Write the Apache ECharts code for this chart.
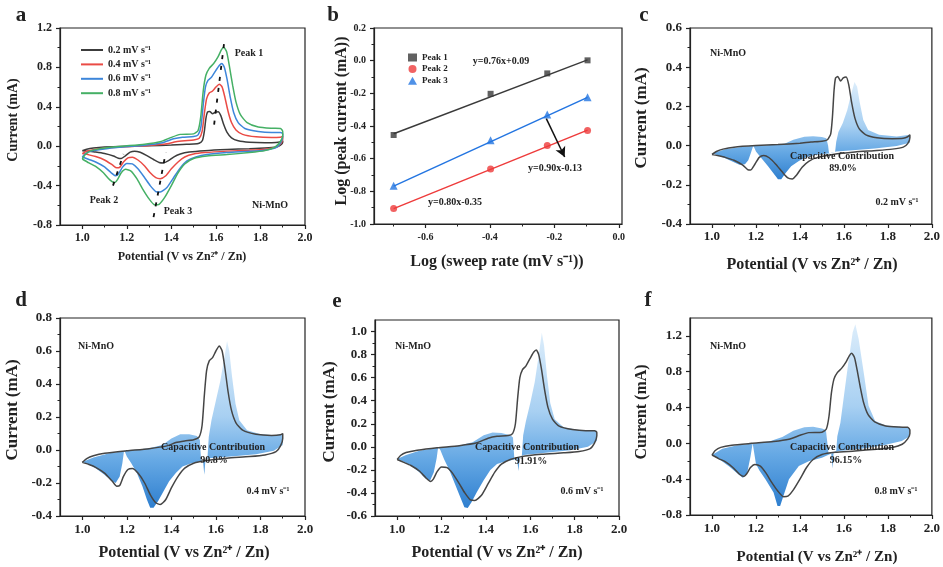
<!DOCTYPE html>
<html><head><meta charset="utf-8">
<script src="https://cdn.jsdelivr.net/npm/echarts@6.0.0/dist/echarts.min.js"></script>
<style>html,body{margin:0;padding:0;background:#fff}#c{width:943px;height:567px}</style>
</head><body><div id="c"></div>
<script>
// ---------------- DATA ----------------
// CV curves [potential V, current mA] : anodic sweep 1.0->1.9 then cathodic 1.9->1.0
const cv02 = [[1.000,-0.045],[1.020,-0.030],[1.050,-0.018],[1.100,-0.008],[1.200,0.000],[1.300,0.005],[1.400,0.012],[1.450,0.018],[1.500,0.022],[1.525,0.030],[1.540,0.060],[1.548,0.150],[1.555,0.280],[1.562,0.345],[1.572,0.352],[1.585,0.330],[1.597,0.345],[1.610,0.350],[1.622,0.310],[1.635,0.220],[1.650,0.140],[1.670,0.085],[1.700,0.055],[1.750,0.040],[1.820,0.035],[1.870,0.037],[1.890,0.045],[1.900,0.055],
  [1.900,0.040],[1.890,0.010],[1.870,-0.008],[1.820,-0.018],[1.750,-0.025],[1.650,-0.033],[1.550,-0.045],[1.480,-0.060],[1.440,-0.080],[1.410,-0.110],[1.385,-0.150],[1.365,-0.170],[1.345,-0.165],[1.320,-0.135],[1.290,-0.095],[1.260,-0.062],[1.235,-0.050],[1.215,-0.060],[1.195,-0.095],[1.175,-0.125],[1.162,-0.122],[1.140,-0.100],[1.100,-0.075],[1.060,-0.060],[1.030,-0.052],[1.000,-0.045]];
const cv04 = [[1.000,-0.075],[1.020,-0.052],[1.050,-0.035],[1.100,-0.020],[1.200,-0.005],[1.300,0.008],[1.380,0.025],[1.420,0.045],[1.460,0.055],[1.500,0.062],[1.525,0.080],[1.538,0.150],[1.548,0.330],[1.558,0.480],[1.570,0.540],[1.585,0.560],[1.600,0.600],[1.615,0.630],[1.628,0.600],[1.640,0.500],[1.655,0.350],[1.670,0.240],[1.690,0.165],[1.720,0.120],[1.780,0.095],[1.850,0.088],[1.890,0.092],[1.900,0.100],
  [1.900,0.070],[1.890,0.025],[1.870,-0.010],[1.820,-0.030],[1.750,-0.040],[1.650,-0.050],[1.550,-0.065],[1.500,-0.080],[1.460,-0.110],[1.430,-0.160],[1.400,-0.230],[1.375,-0.300],[1.350,-0.330],[1.330,-0.320],[1.305,-0.270],[1.280,-0.200],[1.250,-0.140],[1.225,-0.112],[1.205,-0.118],[1.185,-0.160],[1.168,-0.215],[1.155,-0.220],[1.135,-0.190],[1.100,-0.140],[1.060,-0.105],[1.030,-0.088],[1.000,-0.075]];
const cv06 = [[1.000,-0.110],[1.015,-0.075],[1.040,-0.050],[1.090,-0.030],[1.180,-0.008],[1.280,0.010],[1.360,0.035],[1.410,0.075],[1.450,0.092],[1.500,0.098],[1.520,0.115],[1.533,0.200],[1.543,0.420],[1.553,0.600],[1.565,0.670],[1.580,0.700],[1.600,0.770],[1.615,0.820],[1.627,0.840],[1.638,0.800],[1.650,0.680],[1.665,0.490],[1.680,0.340],[1.700,0.240],[1.730,0.180],[1.790,0.150],[1.850,0.140],[1.890,0.140],[1.900,0.125],
  [1.900,0.095],[1.890,0.035],[1.870,-0.015],[1.820,-0.040],[1.750,-0.052],[1.650,-0.065],[1.560,-0.085],[1.510,-0.110],[1.470,-0.150],[1.440,-0.220],[1.410,-0.320],[1.380,-0.420],[1.350,-0.465],[1.330,-0.460],[1.305,-0.400],[1.280,-0.320],[1.250,-0.230],[1.225,-0.180],[1.200,-0.175],[1.180,-0.215],[1.163,-0.280],[1.150,-0.300],[1.130,-0.270],[1.100,-0.210],[1.060,-0.160],[1.030,-0.135],[1.000,-0.110]];
const cv08 = [[1.000,-0.130],[1.015,-0.080],[1.040,-0.045],[1.090,-0.020],[1.180,0.000],[1.280,0.020],[1.350,0.045],[1.400,0.090],[1.440,0.120],[1.500,0.125],[1.520,0.160],[1.532,0.300],[1.543,0.560],[1.555,0.720],[1.570,0.790],[1.590,0.840],[1.610,0.910],[1.625,0.980],[1.635,1.005],[1.648,0.960],[1.660,0.820],[1.675,0.620],[1.690,0.450],[1.710,0.320],[1.740,0.240],[1.790,0.195],[1.850,0.182],[1.890,0.180],[1.900,0.150],
  [1.900,0.110],[1.890,0.050],[1.865,-0.010],[1.820,-0.045],[1.750,-0.065],[1.650,-0.085],[1.560,-0.100],[1.500,-0.125],[1.460,-0.180],[1.430,-0.270],[1.400,-0.400],[1.370,-0.520],[1.345,-0.590],[1.325,-0.595],[1.300,-0.535],[1.270,-0.430],[1.245,-0.330],[1.220,-0.255],[1.195,-0.235],[1.175,-0.270],[1.158,-0.340],[1.145,-0.370],[1.125,-0.345],[1.095,-0.270],[1.060,-0.205],[1.030,-0.170],[1.000,-0.130]];

// peak-shift guide lines (panel a)
const guidePeak1 = [[1.592,0.22],[1.638,1.07]];
const guidePeak2 = [[1.138,-0.40],[1.185,-0.08]];
const guidePeak3 = [[1.320,-0.72],[1.375,-0.06]];

// capacitive contribution outlines (panels c-f)
const capC = [[1.000,-0.040],[1.060,-0.018],[1.150,-0.005],[1.250,0.002],[1.330,0.010],[1.370,0.030],[1.420,0.045],[1.460,0.048],[1.500,0.044],[1.520,0.038],[1.528,0.000],[1.532,-0.038],
  [1.548,-0.036],[1.560,-0.032],
  [1.565,0.020],[1.575,0.070],[1.595,0.115],[1.615,0.180],[1.632,0.260],[1.648,0.325],[1.660,0.300],[1.672,0.220],[1.688,0.130],[1.710,0.080],[1.760,0.055],[1.840,0.047],[1.900,0.055],
  [1.900,0.015],[1.840,-0.002],[1.740,-0.015],[1.640,-0.024],[1.566,-0.030],
  [1.530,-0.040],[1.480,-0.046],[1.430,-0.058],[1.395,-0.078],[1.360,-0.105],[1.335,-0.140],[1.315,-0.172],[1.300,-0.172],[1.282,-0.145],[1.255,-0.105],[1.225,-0.065],[1.200,-0.030],[1.188,0.000],
  [1.176,-0.040],[1.165,-0.075],[1.150,-0.095],[1.125,-0.098],[1.090,-0.080],[1.050,-0.060],[1.020,-0.047]];
const capD = [[1.000,-0.072],[1.050,-0.045],[1.120,-0.020],[1.200,-0.005],[1.300,0.010],[1.360,0.030],[1.400,0.070],[1.440,0.095],[1.480,0.095],[1.515,0.085],[1.528,0.060],[1.533,-0.060],
  [1.542,-0.065],[1.548,-0.150],[1.553,-0.060],[1.562,-0.050],
  [1.568,0.080],[1.580,0.180],[1.600,0.300],[1.620,0.420],[1.638,0.560],[1.650,0.660],[1.660,0.600],[1.672,0.450],[1.688,0.280],[1.705,0.180],[1.740,0.120],[1.800,0.095],[1.860,0.090],[1.900,0.095],
  [1.900,0.030],[1.860,-0.005],[1.780,-0.025],[1.680,-0.038],[1.570,-0.050],
  [1.530,-0.070],[1.490,-0.080],[1.450,-0.100],[1.420,-0.140],[1.390,-0.190],[1.365,-0.250],[1.340,-0.310],[1.320,-0.350],[1.305,-0.350],[1.290,-0.300],[1.270,-0.220],[1.245,-0.140],[1.220,-0.080],[1.200,-0.040],[1.188,0.000],
  [1.180,-0.080],[1.168,-0.160],[1.150,-0.200],[1.130,-0.185],[1.100,-0.150],[1.060,-0.110],[1.025,-0.085]];
const capE = [[1.000,-0.106],[1.040,-0.070],[1.100,-0.035],[1.180,-0.008],[1.280,0.012],[1.340,0.040],[1.390,0.100],[1.430,0.125],[1.470,0.120],[1.510,0.100],[1.522,0.080],[1.528,-0.100],
  [1.540,-0.100],[1.547,-0.210],[1.552,-0.095],[1.562,-0.080],
  [1.568,0.100],[1.580,0.220],[1.600,0.380],[1.620,0.560],[1.637,0.780],[1.652,0.990],[1.662,0.880],[1.675,0.620],[1.690,0.380],[1.710,0.240],[1.750,0.170],[1.820,0.145],[1.900,0.140],
  [1.900,0.050],[1.860,0.000],[1.780,-0.030],[1.680,-0.050],[1.570,-0.070],
  [1.530,-0.110],[1.490,-0.125],[1.450,-0.150],[1.420,-0.200],[1.390,-0.290],[1.360,-0.390],[1.335,-0.480],[1.318,-0.530],[1.303,-0.525],[1.285,-0.440],[1.260,-0.320],[1.235,-0.200],[1.212,-0.110],[1.195,-0.030],[1.185,0.000],
  [1.178,-0.100],[1.165,-0.220],[1.148,-0.295],[1.128,-0.275],[1.100,-0.220],[1.060,-0.160],[1.025,-0.125]];
const capF = [[1.000,-0.130],[1.047,-0.060],[1.110,-0.025],[1.175,-0.003],[1.260,0.020],[1.320,0.070],[1.370,0.140],[1.420,0.180],[1.460,0.185],[1.500,0.165],[1.518,0.150],[1.530,-0.110],
  [1.542,-0.110],[1.548,-0.280],[1.553,-0.100],[1.565,-0.085],
  [1.570,0.080],[1.584,0.230],[1.600,0.530],[1.620,0.900],[1.640,1.240],[1.652,1.330],[1.667,1.165],[1.690,0.790],[1.712,0.420],[1.742,0.250],[1.790,0.200],[1.850,0.185],[1.900,0.170],
  [1.900,0.080],[1.863,0.026],[1.780,-0.020],[1.680,-0.060],[1.576,-0.086],
  [1.538,-0.120],[1.500,-0.160],[1.440,-0.200],[1.395,-0.254],[1.350,-0.400],[1.327,-0.570],[1.310,-0.700],[1.298,-0.700],[1.280,-0.550],[1.243,-0.400],[1.215,-0.300],[1.200,-0.230],[1.185,0.000],
  [1.175,-0.150],[1.160,-0.330],[1.140,-0.385],[1.120,-0.345],[1.080,-0.260],[1.035,-0.180]];

// panel b: log(sweep rate) vs log(peak current)
const logRate = [-0.699,-0.398,-0.222,-0.097];
const logPeak1 = [-0.455,-0.203,-0.078,0.002];
const logPeak2 = [-0.905,-0.663,-0.520,-0.428];
const logPeak3 = [-0.766,-0.488,-0.330,-0.224];
const fit1 = [[-0.699,-0.447],[-0.097,0.005]];
const fit2 = [[-0.699,-0.906],[-0.097,-0.425]];
const fit3 = [[-0.699,-0.768],[-0.097,-0.225]];
const arrowB = [[-0.225,-0.355],[-0.168,-0.590]];

// tick labels
const xTicksCV = [1.0,1.2,1.4,1.6,1.8,2.0];
const xMinorCV = [1.1,1.3,1.5,1.7,1.9];
const yTicksA = [-0.8,-0.4,0.0,0.4,0.8,1.2];
const yMinorA = [-0.6,-0.2,0.2,0.6,1.0];
const xTicksB = [-0.6,-0.4,-0.2,0.0];
const xMinorB = [-0.7,-0.5,-0.3,-0.1];
const yTicksB = [-1.0,-0.8,-0.6,-0.4,-0.2,0.0,0.2];
const yMinorB = [-0.9,-0.7,-0.5,-0.3,-0.1,0.1];
const yTicksC = [-0.4,-0.2,0.0,0.2,0.4,0.6];
const yMinorC = [-0.3,-0.1,0.1,0.3,0.5];
const yTicksD = [-0.4,-0.2,0.0,0.2,0.4,0.6,0.8];
const yMinorD = [-0.3,-0.1,0.1,0.3,0.5,0.7];
const yTicksE = [-0.6,-0.4,-0.2,0.0,0.2,0.4,0.6,0.8,1.0];
const yMinorE = [-0.5,-0.3,-0.1,0.1,0.3,0.5,0.7,0.9];
const yTicksF = [-0.8,-0.4,0.0,0.4,0.8,1.2];
const yMinorF = [-0.6,-0.2,0.2,0.6,1.0];

const rateNames = ['0.2 mV s\u207B\u00B9','0.4 mV s\u207B\u00B9','0.6 mV s\u207B\u00B9','0.8 mV s\u207B\u00B9'];
const peakNames = ['Peak 1','Peak 2','Peak 3'];

// ---------------- STYLE / LAYOUT ----------------
const FONT = '"Liberation Serif","Times New Roman",serif';
const INK = '#222';
const grids = [
  {left:60, top:28, width:245, height:197},
  {left:374, top:28, width:248, height:196},
  {left:690, top:28, width:243, height:196},
  {left:60, top:318, width:245, height:198},
  {left:375, top:320, width:244, height:196},
  {left:690, top:318, width:243, height:197}
].map(g => Object.assign(g, {show:true, borderColor:INK, borderWidth:1.2, backgroundColor:'transparent'}));

const xAxes = [], yAxes = [];
function addAxes(list, dim, gi, min, max, majors, minors, fontSize, margin){
  const common = {type:'value', gridIndex:gi, min:min, max:max, position: dim==='x'?'bottom':'left', splitLine:{show:false}, offset:0};
  list.push(Object.assign({}, common, {
    axisLine:{show:true, onZero:false, lineStyle:{color:INK, width:1.2}},
    axisTick:{show:true, inside:false, length:4, customValues:majors, lineStyle:{color:INK, width:1.2}},
    axisLabel:{show:true, customValues:majors, margin:margin, formatter: v => (+v).toFixed(1),
      fontFamily:FONT, fontWeight:'bold', fontSize:fontSize, color:INK}
  }));
  list.push(Object.assign({}, common, {
    axisLine:{show:false, onZero:false},
    axisTick:{show:true, inside:false, length:2.5, customValues:minors, lineStyle:{color:INK, width:1}},
    axisLabel:{show:false}
  }));
}
addAxes(xAxes,'x',0,0.9,2.0,xTicksCV,xMinorCV,12,7);
addAxes(yAxes,'y',0,-0.8,1.2,yTicksA,yMinorA,12,8);
addAxes(xAxes,'x',1,-0.76,0.01,xTicksB,xMinorB,10,8);
addAxes(yAxes,'y',1,-1.0,0.2,yTicksB,yMinorB,10,8);
addAxes(xAxes,'x',2,0.9,2.0,xTicksCV,xMinorCV,13,6);
addAxes(yAxes,'y',2,-0.4,0.6,yTicksC,yMinorC,13,8);
addAxes(xAxes,'x',3,0.9,2.0,xTicksCV,xMinorCV,13,7);
addAxes(yAxes,'y',3,-0.4,0.8,yTicksD,yMinorD,13,8);
addAxes(xAxes,'x',4,0.9,2.0,xTicksCV,xMinorCV,13,7);
addAxes(yAxes,'y',4,-0.6,1.1,yTicksE,yMinorE,13,8);
addAxes(xAxes,'x',5,0.9,2.0,xTicksCV,xMinorCV,13,7);
addAxes(yAxes,'y',5,-0.8,1.4,yTicksF,yMinorF,13,8);

const cvColors = ['#3c3c3c','#ea4b45','#3d86da','#45b065'];
const cvData = [cv02, cv04, cv06, cv08];
const series = [];

// panel a
cvData.forEach((d,i) => series.push({
  type:'line', name:rateNames[i], xAxisIndex:0, yAxisIndex:0, data:d, showSymbol:false, symbol:'none',
  smooth:0.2, lineStyle:{color:cvColors[i], width:1.5}, itemStyle:{color:cvColors[i]}, z:3, animation:false
}));
[guidePeak1, guidePeak2, guidePeak3].forEach(g => series.push({
  type:'line', xAxisIndex:0, yAxisIndex:0, data:g, symbol:'none', silent:true,
  lineStyle:{color:'#111', width:1.8, type:[4,7]}, z:4, animation:false
}));

// panel b
const peakSets = [logPeak1, logPeak2, logPeak3];
const peakColors = ['#3a3a3a','#ee3b3b','#2375e1'];
const peakSymbols = ['rect','circle','triangle'];
const peakSizes = [6,7,8];
[fit1, fit2, fit3].forEach((f,i) => series.push({
  type:'line', xAxisIndex:2, yAxisIndex:2, data:f, symbol:'none', silent:true,
  lineStyle:{color:peakColors[i], width:1.5}, z:2, animation:false,
  markLine: i===2 ? {silent:true, symbol:['none','arrow'], symbolSize:[8,10], label:{show:false},
     lineStyle:{color:'#111', width:1.5, type:'solid'},
     data:[[{coord:arrowB[0]},{coord:arrowB[1]}]], animation:false} : undefined
}));
peakSets.forEach((p,i) => series.push({
  type:'scatter', name:peakNames[i], xAxisIndex:2, yAxisIndex:2,
  data: logRate.map((x,j) => [x, p[j]]), symbol:peakSymbols[i], symbolSize:peakSizes[i],
  itemStyle:{color:peakColors[i]}, z:3, animation:false
}));

// panels c-f
const caps = [capC, capD, capE, capF];
caps.forEach((cap,k) => {
  const ai = (k+2)*2;
  series.push({
    type:'custom', xAxisIndex:ai, yAxisIndex:ai, data:cap, silent:true, z:1, animation:false,
    encode:{x:0, y:1},
    renderItem: function(params, api){
      if (params.dataIndex !== 0) return null;
      const pts = cap.map(p => api.coord(p));
      return {type:'polygon', shape:{points:pts}, style:{
        fill: new echarts.graphic.LinearGradient(0,0,0,1,[
          {offset:0, color:'#dcedfb'},{offset:0.45, color:'#a8d0f2'},
          {offset:0.72, color:'#65a8e4'},{offset:1, color:'#2f7fcf'}]),
        stroke:'none'}};
    }
  });
  series.push({
    type:'line', name:'cv'+k, xAxisIndex:ai, yAxisIndex:ai, data:cvData[k], symbol:'none', showSymbol:false,
    smooth:0.2, lineStyle:{color:'#454545', width:1.5}, z:3, animation:false
  });
});

// ---------------- TEXT ----------------
const gfx = [];
function txt(x, y, s, size, opt){
  opt = opt || {};
  gfx.push({type:'text', x:x, y:y, rotation: opt.rot || 0, silent:true, z:100,
    style:{text:s, fill: opt.color || INK, font:'bold ' + size + 'px ' + FONT,
      align: opt.align || 'center', verticalAlign:'middle'}});
}
// panel letters
txt(21,16,'a',21); txt(333,16,'b',21); txt(644,16,'c',21);
txt(21,301,'d',21); txt(337,302,'e',21); txt(648,301,'f',21);
// axis titles
const XT = 'Potential (V vs Zn\u00B2\u207A / Zn)';
txt(182,257,XT,12);
txt(497,262,'Log (sweep rate (mV s\u207B\u00B9))',16);
txt(812,265,XT,16);
txt(184,553,XT,16);
txt(497,553,XT,16);
txt(817,557,XT,15);
txt(13,120,'Current (mA)',14,{rot:Math.PI/2});
txt(342,121,'Log (peak current (mA))',16,{rot:Math.PI/2});
txt(642,118,'Current (mA)',17,{rot:Math.PI/2});
txt(13,410,'Current (mA)',17,{rot:Math.PI/2});
txt(330,412,'Current (mA)',17,{rot:Math.PI/2});
txt(642,412,'Current (mA)',16,{rot:Math.PI/2});
// panel a annotations
txt(249,53,'Peak 1',10); txt(104,200,'Peak 2',10); txt(178,211,'Peak 3',10); txt(270,205,'Ni-MnO',10);
// panel b annotations
txt(501,61,'y=0.76x+0.09',10); txt(555,168,'y=0.90x-0.13',10); txt(455,202,'y=0.80x-0.35',10);
// panels c-f annotations
txt(728,53,'Ni-MnO',10); txt(842,156,'Capacitive Contribution',10); txt(843,168,'89.0%',10); txt(897,202,'0.2 mV s\u207B\u00B9',10);
txt(96,346,'Ni-MnO',10); txt(213,447,'Capacitive Contribution',10); txt(214,460,'90.8%',10); txt(268,491,'0.4 mV s\u207B\u00B9',10);
txt(413,346,'Ni-MnO',10); txt(527,447,'Capacitive Contribution',10); txt(531,461,'91.91%',10); txt(582,491,'0.6 mV s\u207B\u00B9',10);
txt(728,346,'Ni-MnO',10); txt(842,447,'Capacitive Contribution',10); txt(846,460,'96.15%',10); txt(896,491,'0.8 mV s\u207B\u00B9',10);

const option = {
  animation:false,
  backgroundColor:'#fff',
  grid: grids,
  xAxis: xAxes,
  yAxis: yAxes,
  legend: [
    {data:rateNames, orient:'vertical', left:76, top:40, icon:'rect', itemWidth:22, itemHeight:2, itemGap:4.4,
     textStyle:{fontFamily:FONT, fontWeight:'bold', fontSize:10, color:INK}, selectedMode:false},
    {data:peakNames, orient:'vertical', left:403, top:48, itemWidth:9, itemHeight:8, itemGap:2.6,
     textStyle:{fontFamily:FONT, fontWeight:'bold', fontSize:9, color:INK}, selectedMode:false}
  ],
  series: series,
  graphic: gfx
};
const chart = echarts.init(document.getElementById('c'), null, {renderer:'canvas'});
chart.setOption(option);
</script></body></html>
